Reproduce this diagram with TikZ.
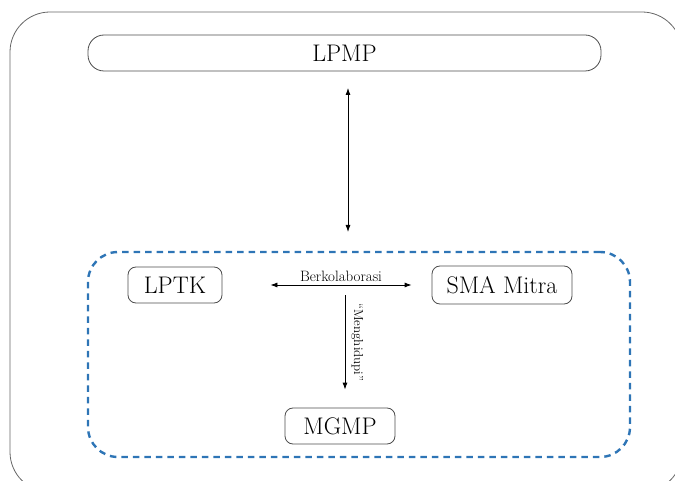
\documentclass[tikz,border=0pt]{standalone}
\usetikzlibrary{positioning}
\usetikzlibrary{arrows.meta}
\definecolor{dashblue}{RGB}{46,117,182}

\begin{document}
\begin{tikzpicture}[
        x = 1pt,
        y = -1pt,
        box/.style = {
            draw=black!70,
            rounded corners = 8pt,
            line width = 0.8pt,
            font = \fontsize{24}{28}\selectfont,
            inner sep = 0pt
        },
        tag/.style = {
            font = \fontsize{15}{18}\selectfont,
            inner sep = 3pt
        },
        link/.style = {
            line width = 0.8pt,
            >={Latex[length=7pt, width=5pt]}
        }
    ]
    \useasboundingbox (0,0) rectangle (675,481);
    \begin{scope}
        \clip (0,0) rectangle (675,481);
        \draw[black!60, line width = 0.8pt, rounded corners = 40pt] (10,12) rectangle (682,492);
    \end{scope}

    \node[box, rounded corners = 16pt, minimum width = 513pt, minimum height = 36pt] (lpmp) at (344.5,53) {LPMP};

    \node[draw=dashblue, dash pattern = on 6.5pt off 5pt, line width = 2.4pt, rounded corners = 30pt,
          minimum width = 542pt, minimum height = 205pt] (grp) at (359,354.5) {};

    \node[box, minimum width = 94pt, minimum height = 36pt] (lptk) at (175,285) {LPTK};
    \node[box, minimum width = 140pt, minimum height = 38pt] (sma) at (502,285) {SMA Mitra};
    \node[box, minimum width = 110pt, minimum height = 36pt] (mgmp) at (340,426) {MGMP};

    \coordinate (up) at (348,88);
    \coordinate (down) at (348,232);
    \coordinate (split) at (345,295);

    \draw[link, <->] (up) -- (down);
    \draw[link, <->] ([xshift=48pt]lptk.east) -- node[tag, above]{Berkolaborasi} ([xshift=-20pt]sma.west);
    \draw[link, ->] (split) -- node[tag, font=\fontsize{13}{15}\selectfont, inner sep=6pt, anchor=south, rotate=-90]{``Menghidupi''} ([xshift=5pt, yshift=18pt]mgmp.north);
\end{tikzpicture}
\end{document}
